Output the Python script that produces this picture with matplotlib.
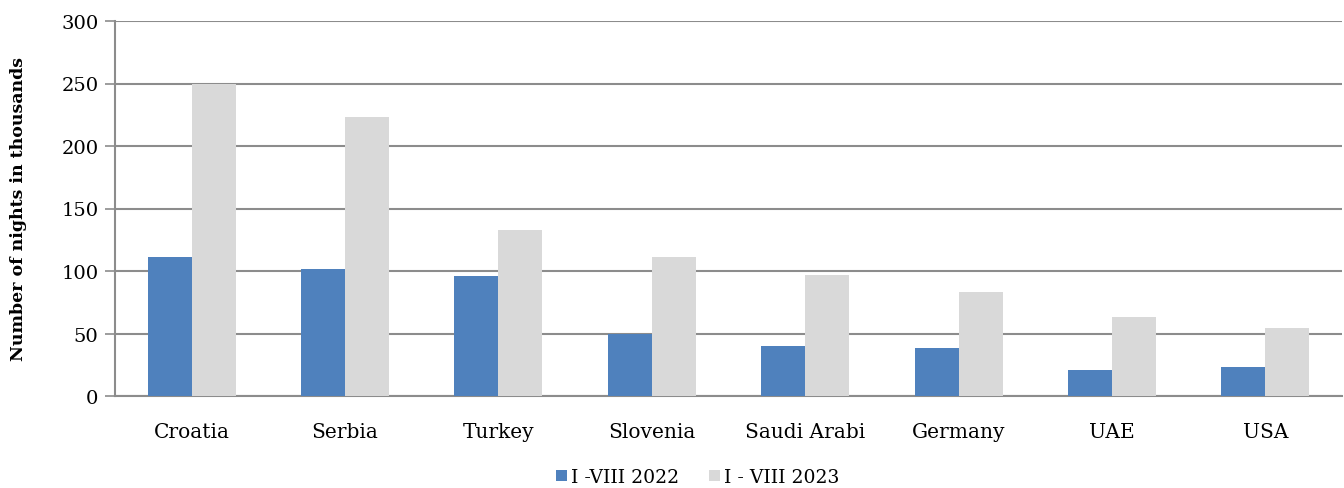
import matplotlib.pyplot as plt
import numpy as np

plt.rcParams.update({
    "font.family": "DejaVu Serif",
    "font.size": 14,
})

countries = ["Croatia", "Serbia", "Turkey", "Slovenia", "Saudi Arabi",
             "Germany", "UAE", "USA"]
nights_2022 = [111, 102, 96, 49.5, 40, 38.3, 20.8, 23]
nights_2023 = [250, 223, 133, 111, 97, 83.5, 63.5, 54.5]
yticks = [0, 50, 100, 150, 200, 250, 300]

BLUE = "#4F81BD"
GREY = "#D9D9D9"
GRID = "#8C8C8C"

fig = plt.figure(figsize=(13.44, 4.89), dpi=100)
ax = fig.add_axes([115 / 1344, 1 - 397 / 489, (1342 - 115) / 1344, (397 - 22) / 489])

x = np.arange(len(countries))
w = 0.287
ax.bar(x - w / 2, nights_2022, width=w, color=BLUE, label="I -VIII 2022", zorder=3)
ax.bar(x + w / 2, nights_2023, width=w, color=GREY, label="I - VIII 2023", zorder=3)

ax.set_xlim(-0.5, len(countries) - 0.5)
ax.set_ylim(0, 300)
ax.set_yticks(yticks)
ax.set_xticks(x)
ax.set_xticklabels(countries)
ax.tick_params(axis="x", length=0, pad=19, labelsize=14.5)
ax.tick_params(axis="y", length=7, width=1.2, color=GRID, pad=5, labelsize=14)

ax.grid(axis="y", color=GRID, linewidth=1.5)
ax.set_axisbelow(True)
for s in ["top", "right"]:
    ax.spines[s].set_visible(False)
for s in ["left", "bottom"]:
    ax.spines[s].set_color(GRID)
    ax.spines[s].set_linewidth(1.5)

ax.set_ylabel("Number of nights in thousands", fontsize=12.5, fontweight="bold")
ax.yaxis.set_label_coords(-88 / 1227, 0.5)

fig.legend(*ax.get_legend_handles_labels(), loc="center",
           bbox_to_anchor=(698 / 1344, 1 - 478 / 489), ncol=2, frameon=False,
           fontsize=13.5, handlelength=0.55, handleheight=0.55, handletextpad=0.25,
           columnspacing=1.6, borderpad=0.1)

fig.savefig("out.png", dpi=100, facecolor="white")
